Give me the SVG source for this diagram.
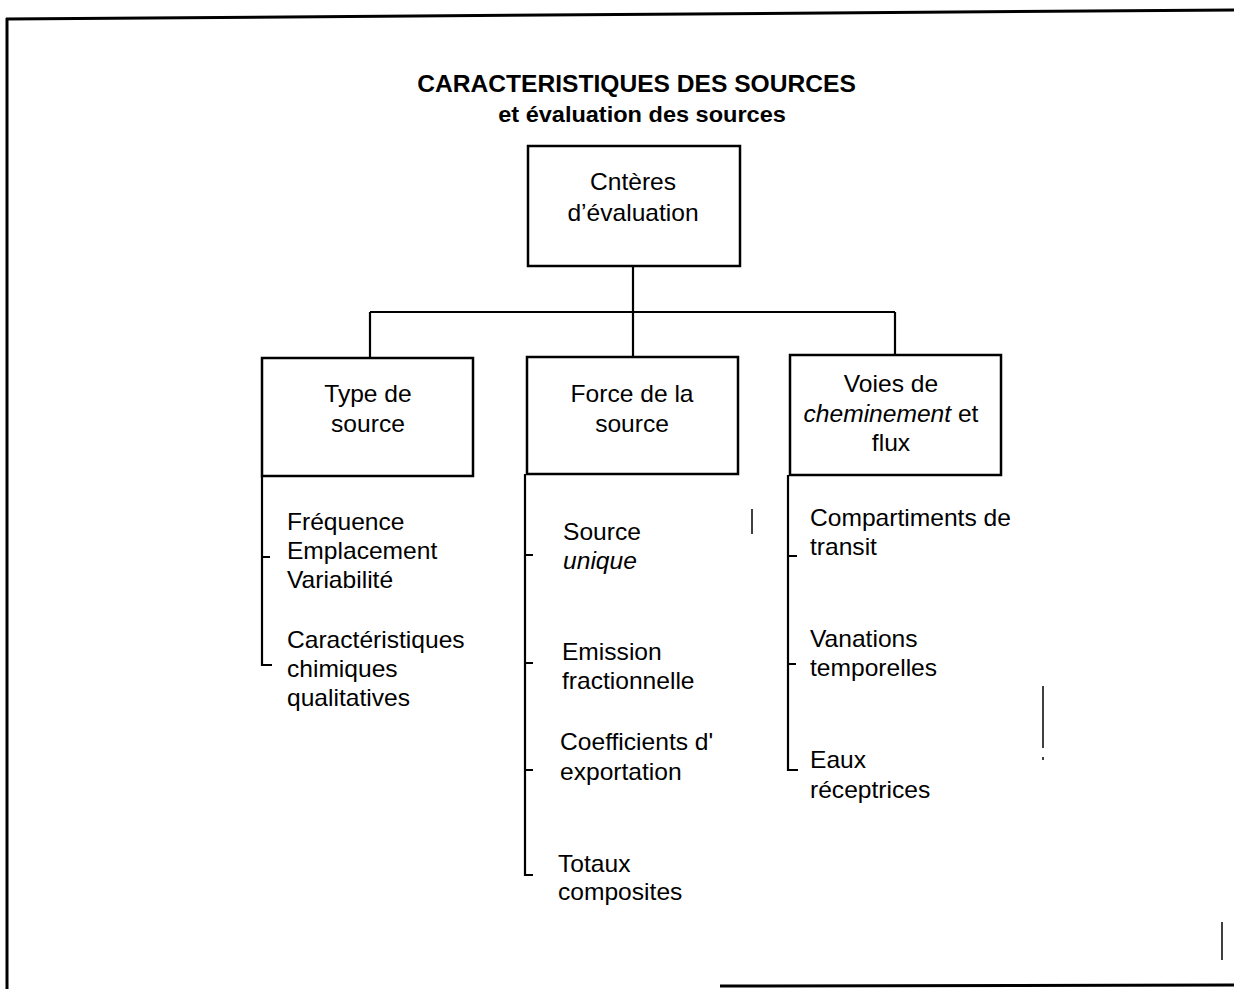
<svg xmlns="http://www.w3.org/2000/svg" width="1234" height="989" viewBox="0 0 1234 989">
<style>
.frame{stroke:#000;stroke-width:3;fill:none}
.box{fill:#fff;stroke:#000;stroke-width:2.5}
.ln{stroke:#000;stroke-width:2.2;fill:none}
.mark{stroke:#000;stroke-width:1.5;fill:none}
text{font-family:"Liberation Sans",Arial,sans-serif;font-size:23px;fill:#000}
.t{font-weight:bold}
.c{text-anchor:middle}
.i{font-style:italic}
</style>
<rect width="1234" height="989" fill="#fff"/>
<g id="frame">
<path class="frame" d="M6,19 L1234,10"/>
<path class="frame" d="M7,18 L7,989"/>
<path class="frame" d="M720,986 L1234,985" stroke-width="2"/>
</g>
<g id="title" transform="scale(1.07,1)">
<text class="t c" x="594.9" y="92">CARACTERISTIQUES DES SOURCES</text>
<text class="t c" x="600" y="122" style="font-size:22px">et évaluation des sources</text>
</g>
<g id="connectors">
<path class="ln" d="M633,266 V312 M370,312 H895 M370,312 V358 M633,312 V357 M895,312 V355"/>
<path class="ln" d="M262,476 V665 H272 M262,557 H270"/>
<path class="ln" d="M525,474 V875 H533 M525,555 H533 M525,663 H533 M525,770 H533"/>
<path class="ln" d="M788,475 V770 H798 M788,556 H797 M788,664 H796"/>
</g>
<g id="node-criteres">
<rect class="box" x="528" y="146" width="212" height="120"/>
<g transform="scale(1.07,1)">
<text class="c" x="591.6" y="190">Cntères</text>
<text class="c" x="591.6" y="221">d’évaluation</text>
</g>
</g>
<g id="node-type">
<rect class="box" x="262" y="358" width="211" height="118"/>
<g transform="scale(1.07,1)">
<text class="c" x="343.9" y="402">Type de</text>
<text class="c" x="343.9" y="432">source</text>
</g>
</g>
<g id="node-force">
<rect class="box" x="527" y="357" width="211" height="117"/>
<g transform="scale(1.07,1)">
<text class="c" x="590.7" y="402">Force de la</text>
<text class="c" x="590.7" y="432">source</text>
</g>
</g>
<g id="node-voies">
<rect class="box" x="790" y="355" width="211" height="120"/>
<g transform="scale(1.07,1)">
<text class="c" x="832.7" y="392">Voies de</text>
<text class="c" x="832.7" y="422"><tspan class="i">cheminement</tspan> et</text>
<text class="c" x="832.7" y="451">flux</text>
</g>
</g>
<g id="items-type" transform="scale(1.07,1)">
<text x="268.2" y="530">Fréquence</text>
<text x="268.2" y="559">Emplacement</text>
<text x="268.2" y="588">Variabilité</text>
<text x="268.2" y="648">Caractéristiques</text>
<text x="268.2" y="677">chimiques</text>
<text x="268.2" y="706">qualitatives</text>
</g>
<g id="items-force" transform="scale(1.07,1)">
<text x="526.2" y="540">Source</text>
<text x="526.2" y="569" class="i">unique</text>
<text x="525.2" y="660">Emission</text>
<text x="525.2" y="689">fractionnelle</text>
<text x="523.4" y="750">Coefficients d'</text>
<text x="523.4" y="780">exportation</text>
<text x="521.5" y="872">Totaux</text>
<text x="521.5" y="900">composites</text>
</g>
<g id="items-voies" transform="scale(1.07,1)">
<text x="757" y="526">Compartiments de</text>
<text x="757" y="555">transit</text>
<text x="757" y="647">Vanations</text>
<text x="757" y="676">temporelles</text>
<text x="757" y="768">Eaux</text>
<text x="757" y="798">réceptrices</text>
</g>
<g id="marks">
<path class="mark" d="M752,509 V534"/>
<path class="mark" d="M1043,686 V748"/>
<path class="mark" d="M1043,757 V760"/>
<path class="mark" d="M1222,922 V960" stroke-width="2"/>
</g>
</svg>
